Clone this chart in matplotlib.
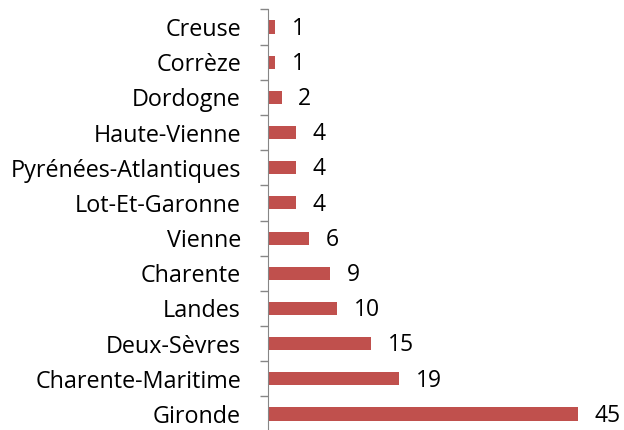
import matplotlib.pyplot as plt
import numpy as np

# departments, bottom to top as drawn
departements = ['Gironde', 'Charente-Maritime', 'Deux-Sèvres', 'Landes', 'Charente',
                'Vienne', 'Lot-Et-Garonne', 'Pyrénées-Atlantiques', 'Haute-Vienne',
                'Dordogne', 'Corrèze', 'Creuse']
valeurs = [45, 19, 15, 10, 9, 6, 4, 4, 4, 2, 1, 1]

plt.rcParams['font.family'] = ['Open Sans', 'DejaVu Sans']

fig = plt.figure(figsize=(6.24, 4.30), dpi=100)
W, H = 624, 430
left, right, top, bottom = 268, 612.5, 9.4, 431.6
ax = fig.add_axes([left / W, 1 - bottom / H, (right - left) / W, (bottom - top) / H])

y = np.arange(len(departements))
bars = ax.barh(y, valeurs, height=0.37, color='#C0504D')
# value labels sit a touch below the bar centre
for yi, v in zip(y, valeurs):
    ax.text(v + 2.4, yi - 0.05, str(v), va='center', ha='left', fontsize=16.5, color='black')

ax.set_xlim(0, 50)
ax.set_ylim(-0.5, len(departements) - 0.5)
ax.set_yticks(y)
ax.set_yticklabels(departements, fontsize=16.8)
ax.set_yticks(np.arange(-0.5, len(departements), 1), minor=True)
ax.tick_params(axis='y', which='major', length=0, pad=19.5)
ax.tick_params(axis='y', which='minor', length=6, color='#868686', width=1)
ax.set_xticks([])
for s in ['top', 'right', 'bottom']:
    ax.spines[s].set_visible(False)
ax.spines['left'].set_color('#868686')

fig.savefig('out.png', dpi=100)
